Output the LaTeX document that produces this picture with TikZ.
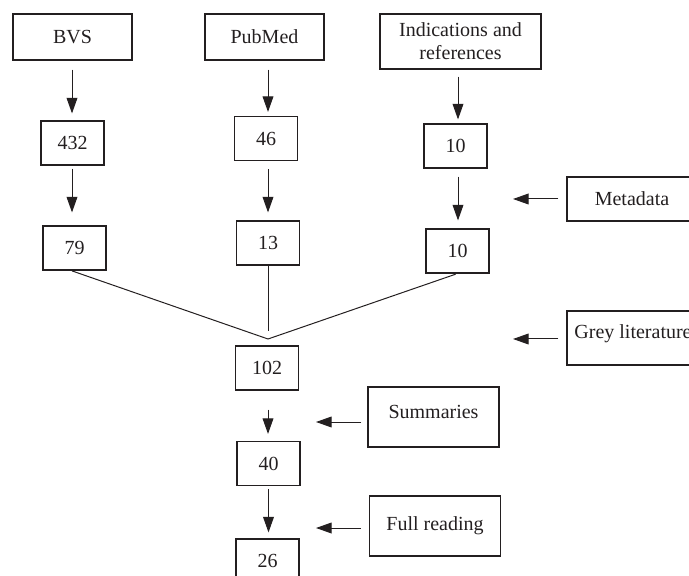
\documentclass[tikz,border=0pt]{standalone}
\usepackage{fontspec}
\setmainfont{Liberation Serif}
\usepackage{tikz}
\usetikzlibrary{arrows.meta}
\definecolor{ink}{RGB}{35,31,32}

\begin{document}
\begin{tikzpicture}[
        x=0.5pt, y=-0.5pt,
        every node/.style={draw=ink, text=ink, rectangle, line width=0.55pt, inner sep=0pt, align=center, font=\fontsize{10}{11.5}\selectfont},
        source/.style={minimum width=59.5pt, minimum height=23pt},
        count/.style={minimum width=31.5pt, minimum height=22pt},
        filter/.style={minimum width=65.5pt, minimum height=30pt},
        arr/.style={draw=ink, line width=0.5pt, -{Triangle[length=7.8pt, width=5.4pt]}},
        mergeline/.style={draw=ink, line width=0.5pt}
    ]
    \useasboundingbox (0,0) rectangle (689,576);
    \node[source] (bvs) at (72.5,37) {BVS};
    \node[source] (pubmed) at (264.5,37) {PubMed};
    \node[minimum width=80.5pt, minimum height=27.5pt] (refs) at (460.5,41.5) {Indications and\\references};
    \node[count] (n432) at (72.5,143) {432};
    \node[count] (n46) at (266,138.5) {46};
    \node[count] (n10a) at (455.5,146) {10};
    \node[count] (n79) at (74.5,248) {79};
    \node[count] (n13) at (268,243) {13};
    \node[count] (n10b) at (457.5,251) {10};
    \node[minimum width=65pt, minimum height=22pt] (meta) at (632,199) {Metadata};
    \node[minimum width=66pt, minimum height=27pt, text depth=6pt] (grey) at (633,338) {Grey literature};
    \node[count] (n102) at (267,368) {102};
    \node[filter, text depth=5pt] (summ) at (433.5,417) {Summaries};
    \node[count] (n40) at (268.5,463.5) {40};
    \node[filter] (full) at (435,526) {Full reading};
    \node[count] (n26) at (267.5,561) {26};

    \coordinate (merge) at (268,339);
    \coordinate (stem) at (268,331);
    \coordinate (metatip) at (513,199);
    \coordinate (greytip) at (513,339);
    \coordinate (summtip) at (316,422);
    \coordinate (fulltip) at (316,528);

    \draw[arr, shorten <=4.5pt, shorten >=3.5pt] ([xshift=-0.25pt]bvs.south) -- ([xshift=-0.25pt]bvs.south |- n432.north);
    \draw[arr, shorten <=1.5pt, shorten >=6.5pt] ([xshift=-0.25pt]n432.south) -- ([xshift=-0.25pt]n432.south |- n79.north);
    \draw[arr, shorten <=4.5pt, shorten >=2pt] ([xshift=1.75pt]pubmed.south) -- ([xshift=1.75pt]pubmed.south |- n46.north);
    \draw[arr, shorten <=4pt, shorten >=4pt] ([xshift=1pt]n46.south) -- ([xshift=1pt]n46.south |- n13.north);
    \draw[arr, shorten <=3.5pt, shorten >=2pt] ([xshift=-1.25pt]refs.south) -- ([xshift=-1.25pt]refs.south |- n10a.north);
    \draw[arr, shorten <=4pt, shorten >=4pt] ([xshift=1.25pt]n10a.south) -- ([xshift=1.25pt]n10a.south |- n10b.north);
    \draw[arr, shorten <=9.5pt, shorten >=3.5pt] ([xshift=0.5pt]n102.south) -- ([xshift=0.5pt]n102.south |- n40.north);
    \draw[arr, shorten <=1.5pt, shorten >=3pt] (n40.south) -- (n40.south |- n26.north);

    \draw[mergeline, shorten <=0.5pt] ([xshift=-1.75pt]n79.south) -- (merge);
    \draw[mergeline] (n13.south) -- (stem);
    \draw[mergeline, shorten <=1pt] (n10b.south) -- (merge);

    \draw[arr, shorten <=4pt] (meta.west) -- (metatip);
    \draw[arr, shorten <=4pt] ([yshift=-0.5pt]grey.west) -- (greytip);
    \draw[arr, shorten <=3pt] ([yshift=-2.5pt]summ.west) -- (summtip);
    \draw[arr, shorten <=4pt] ([yshift=-1pt]full.west) -- (fulltip);
\end{tikzpicture}
\end{document}
